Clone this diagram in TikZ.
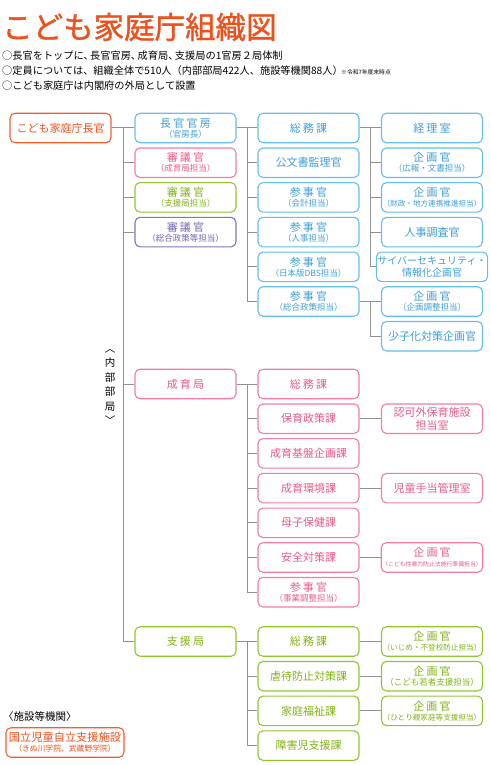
\documentclass[tikz,border=0pt]{standalone}
\usepackage{fontspec}
\setmainfont{Noto Sans CJK JP}
\newfontfamily\titlefont[FakeBold=1.2]{Noto Sans CJK JP}
\definecolor{orgA}{RGB}{240, 95, 45}
\definecolor{orgT}{RGB}{236, 82, 30}
\definecolor{bluA}{RGB}{100, 190, 238}
\definecolor{bluT}{RGB}{60, 158, 215}
\definecolor{pnkA}{RGB}{240, 125, 162}
\definecolor{pnkT}{RGB}{232, 92, 135}
\definecolor{grnA}{RGB}{145, 198, 45}
\definecolor{grnT}{RGB}{128, 178, 20}
\definecolor{prpA}{RGB}{128, 118, 188}
\definecolor{prpT}{RGB}{112, 102, 176}
\definecolor{lineGray}{RGB}{145, 145, 145}
\usepackage{tikz}
\usetikzlibrary{positioning, calc}

\newcommand{\jsp}{\kern2.2pt}
\newcommand{\subf}{\fontsize{8.5}{9}\selectfont}
\newcommand{\tcomma}{、\kern-3.5pt}

\begin{document}
\begin{tikzpicture}[x=1pt, y=-1pt,
    box/.style={draw, fill=white, rounded corners=5pt, line width=1.1pt,
        minimum width=101pt, minimum height=29.5pt, inner sep=1pt,
        align=center, font=\fontsize{11}{12}\selectfont},
    orgbox/.style={box, draw=orgA, text=orgT},
    blubox/.style={box, draw=bluA, text=bluT},
    pnkbox/.style={box, draw=pnkA, text=pnkT},
    grnbox/.style={box, draw=grnA, text=grnT},
    prpbox/.style={box, draw=prpA, text=prpT},
    link/.style={draw=lineGray, line width=1pt}]
    \useasboundingbox (0,0) rectangle (490,765);

    % header
    \node[anchor=west, inner sep=0, text=orgT, font=\titlefont\fontsize{30.5}{30}\selectfont] (title) at (2,27) {こども家庭庁組織図};
    \node[anchor=west, inner sep=0, font=\fontsize{10.2}{10}\selectfont] (note1) at (2,56) {○長官をトップに\tcomma 長官官房\tcomma 成育局\tcomma 支援局の1官房２局体制};
    \node[anchor=west, inner sep=0, font=\fontsize{10.2}{10}\selectfont] (note2) at (2,71) {○定員については、組織全体で510人（内部部局422人、施設等機関88人）};
    \node[anchor=west, inner sep=0, font=\fontsize{5.8}{6}\selectfont] (asof) at (341,72) {※令和7年度末時点};
    \node[anchor=west, inner sep=0, font=\fontsize{10.2}{10}\selectfont] (note3) at (2,86) {○こども家庭庁は内閣府の外局として設置};

    % top and second column
    \node[orgbox] (chokan) at (60.5,128) {こども家庭庁長官};
    \node[blubox] (kanbo) at (185.5,128) {長\jsp 官\jsp 官\jsp 房\\[-2pt]{\subf （官房長）}};
    \node[pnkbox] (shingiS) at (185.5,162.7) {審\jsp 議\jsp 官\\[-2pt]{\subf （成育局担当）}};
    \node[grnbox] (shingiG) at (185.5,197.4) {審\jsp 議\jsp 官\\[-2pt]{\subf （支援局担当）}};
    \node[prpbox] (shingiP) at (185.5,232.1) {審\jsp 議\jsp 官\\[-2pt]{\subf （総合政策等担当）}};
    \node[pnkbox] (seiiku) at (185.5,384) {成\jsp 育\jsp 局};
    \node[grnbox] (shien) at (185.5,641.5) {支\jsp 援\jsp 局};

    % 長官官房
    \node[blubox] (ksomu) at (308.5,128) {総\jsp 務\jsp 課};
    \node[blubox] (kobun) at (308.5,162.7) {公文書監理官};
    \node[blubox] (kaikei) at (308.5,197.4) {参\jsp 事\jsp 官\\[-2pt]{\subf （会計担当）}};
    \node[blubox] (jinji) at (308.5,232.1) {参\jsp 事\jsp 官\\[-2pt]{\subf （人事担当）}};
    \node[blubox] (dbs) at (308.5,266.8) {参\jsp 事\jsp 官\\[-2pt]{\subf （日本版DBS担当）}};
    \node[blubox] (sogo) at (308.5,301.5) {参\jsp 事\jsp 官\\[-2pt]{\subf （総合政策担当）}};

    \node[blubox] (keiri) at (432,128) {経\jsp 理\jsp 室};
    \node[blubox] (kouhou) at (432,162.7) {企\jsp 画\jsp 官\\[-2pt]{\subf （広報・文書担当）}};
    \node[blubox] (zaisei) at (432,197.4) {企\jsp 画\jsp 官\\[-2pt]{\fontsize{7.6}{9}\selectfont （財政・地方連携推進担当）}};
    \node[blubox] (jchosa) at (432,232.1) {人事調査官};
    \node[blubox, font=\fontsize{10}{12.5}\selectfont] (cyber) at (432,266.8) {サイバーセキュリティ・\\情報化企画官};
    \node[blubox] (kchosei) at (432,301.5) {企\jsp 画\jsp 官\\[-2pt]{\subf （企画調整担当）}};
    \node[blubox] (shoshi) at (432,336.2) {少子化対策企画官};

    % 成育局
    \node[pnkbox] (ssomu) at (308.5,384) {総\jsp 務\jsp 課};
    \node[pnkbox] (hoiku) at (308.5,418.7) {保育政策課};
    \node[pnkbox] (kiban) at (308.5,453.4) {成育基盤企画課};
    \node[pnkbox] (kankyo) at (308.5,488.1) {成育環境課};
    \node[pnkbox] (boshi) at (308.5,522.8) {母子保健課};
    \node[pnkbox] (anzen) at (308.5,557.5) {安全対策課};
    \node[pnkbox] (jigyo) at (308.5,592.2) {参\jsp 事\jsp 官\\[-2pt]{\subf （事業調整担当）}};

    \node[pnkbox, font=\fontsize{11}{13}\selectfont] (ninka) at (432,418.7) {認可外保育施設\\担当室};
    \node[pnkbox] (jido) at (432,488.1) {児童手当管理室};
    \node[pnkbox] (seibo) at (432,557.5) {企\jsp 画\jsp 官\\[-2pt]{\fontsize{5.85}{8}\selectfont （こども性暴力防止法施行準備担当）}};

    % 支援局
    \node[grnbox] (gsomu) at (308.5,641.5) {総\jsp 務\jsp 課};
    \node[grnbox] (gyaku) at (308.5,676.2) {虐待防止対策課};
    \node[grnbox] (katei) at (308.5,710.9) {家庭福祉課};
    \node[grnbox] (shogai) at (308.5,745.6) {障害児支援課};

    \node[grnbox] (ijime) at (432,641.5) {企\jsp 画\jsp 官\\[-2pt]{\fontsize{7.6}{9}\selectfont （いじめ・不登校防止担当）}};
    \node[grnbox] (wakamono) at (432,676.2) {企\jsp 画\jsp 官\\[-2pt]{\subf （こども若者支援担当）}};
    \node[grnbox] (hitori) at (432,710.9) {企\jsp 画\jsp 官\\[-2pt]{\fontsize{7.6}{9}\selectfont （ひとり親家庭等支援担当）}};

    % labels
    \node[align=center, inner sep=0, font=\fontsize{10.5}{14.5}\selectfont] (naibu) at (110,387) {︿\\内\\部\\部\\局\\﹀};
    \node[anchor=west, inner sep=0, font=\fontsize{10.5}{11}\selectfont] (shisetsu) at (3,717) {〈施設等機関〉};
    \node[orgbox, minimum width=118pt, font=\fontsize{11.2}{12}\selectfont] (kokuritsu) at (65,742.5) {国立児童自立支援施設\\[-2pt]{\fontsize{7.8}{9}\selectfont （きぬ川学院、武蔵野学院）}};

    % connectors
    \coordinate (t1) at ($(chokan.east)!0.5!(kanbo.west)$);
    \draw[link] (chokan) -- (kanbo);
    \draw[link] (t1) |- (shingiS.west);
    \draw[link] (t1) |- (shingiG.west);
    \draw[link] (t1) |- (shingiP.west);
    \draw[link] (t1) |- (seiiku.west);
    \draw[link] (t1) |- (shien.west);

    \coordinate (t2) at ($(kanbo.east)!0.5!(ksomu.west)$);
    \draw[link] (kanbo) -- (ksomu);
    \draw[link] (t2) |- (kobun.west);
    \draw[link] (t2) |- (kaikei.west);
    \draw[link] (t2) |- (jinji.west);
    \draw[link] (t2) |- (dbs.west);
    \draw[link] (t2) |- (sogo.west);

    \coordinate (t3) at ($(ksomu.east)!0.5!(keiri.west)$);
    \draw[link] (ksomu) -- (keiri);
    \draw[link] (t3) |- (kouhou.west);
    \draw[link] (t3) |- (zaisei.west);
    \draw[link] (t3) |- (jchosa.west);
    \draw[link] (t3) |- (cyber.west);

    \coordinate (t4) at ($(sogo.east)!0.5!(kchosei.west)$);
    \draw[link] (sogo) -- (kchosei);
    \draw[link] (t4) |- (shoshi.west);

    \coordinate (t5) at ($(seiiku.east)!0.5!(ssomu.west)$);
    \draw[link] (seiiku) -- (ssomu);
    \draw[link] (t5) |- (hoiku.west);
    \draw[link] (t5) |- (kiban.west);
    \draw[link] (t5) |- (kankyo.west);
    \draw[link] (t5) |- (boshi.west);
    \draw[link] (t5) |- (anzen.west);
    \draw[link] (t5) |- (jigyo.west);
    \draw[link] (hoiku) -- (ninka);
    \draw[link] (kankyo) -- (jido);
    \draw[link] (anzen) -- (seibo);

    \coordinate (t6) at ($(shien.east)!0.5!(gsomu.west)$);
    \draw[link] (shien) -- (gsomu);
    \draw[link] (t6) |- (gyaku.west);
    \draw[link] (t6) |- (katei.west);
    \draw[link] (t6) |- (shogai.west);
    \draw[link] (gsomu) -- (ijime);
    \draw[link] (gyaku) -- (wakamono);
    \draw[link] (katei) -- (hitori);
\end{tikzpicture}
\end{document}
